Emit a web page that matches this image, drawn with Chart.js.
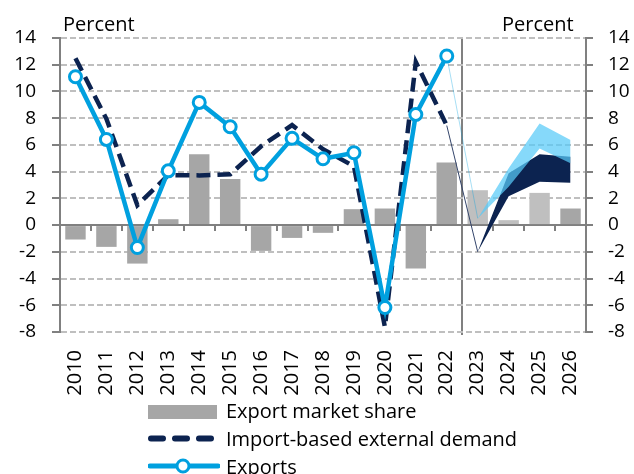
<!DOCTYPE html>
<html>
<head>
<meta charset="utf-8">
<script src="https://cdn.jsdelivr.net/npm/chart.js@4.4.1/dist/chart.umd.min.js"></script>
<style>
  body { margin: 0; background: #fff; }
  #wrap { position: relative; width: 634px; height: 474px; overflow: hidden; font-family: 'Open Sans', sans-serif; }
  #chart { position: absolute; left: 0; top: 0; }
  .unit { position: absolute; font-size: 20px; line-height: 20px; color: #000; white-space: nowrap; }
  .leg { position: absolute; left: 148px; height: 28px; font-size: 20px; line-height: 20px; white-space: nowrap; }
  .leg svg { position: absolute; left: 0; top: 0; }
  .leg span { position: absolute; left: 78px; top: 0; }
</style>
</head>
<body>
<div id="wrap">
  <canvas id="chart" width="634" height="474"></canvas>
  <div class="unit" style="left:63px; top:14px;">Percent</div>
  <div class="unit" style="left:502px; top:14px;">Percent</div>
  <div class="leg" style="top:401px;">
    <svg width="72" height="22"><rect x="0" y="4" width="69" height="14" fill="#A6A6A6"/></svg>
    <span>Export market share</span>
  </div>
  <div class="leg" style="top:429px;">
    <svg width="72" height="22"><line x1="3" y1="9.5" x2="68" y2="9.5" stroke="#0C2350" stroke-width="6" stroke-linecap="round" stroke-dasharray="12 12"/></svg>
    <span>Import-based external demand</span>
  </div>
  <div class="leg" style="top:457px;">
    <svg width="72" height="22"><line x1="2" y1="9" x2="70" y2="9" stroke="#00A0DF" stroke-width="5" stroke-linecap="round"/><circle cx="35" cy="9" r="6" fill="#fff" stroke="#00A0DF" stroke-width="3"/></svg>
    <span>Exports</span>
  </div>
</div>
<script>
// Years on the category axis (2010-2022 history, 2023-2026 projection)
const years = ['2010', '2011', '2012', '2013', '2014', '2015', '2016', '2017', '2018',
    '2019', '2020', '2021', '2022', '2023', '2024', '2025', '2026'];

// Export market share (bars)
const marketShare = [-1.08, -1.63, -2.88, 0.44, 5.31, 3.44, -1.93, -0.96, -0.58,
    1.19, 1.24, -3.25, 4.69, 2.61, 0.37, 2.41, 1.24];

// Import-based external demand (history, dashed)
const importDemand = [12.48, 7.95, 1.49, 3.74, 3.72, 3.8, 5.9, 7.48, 5.68,
    4.4, -7.62, 12.2, 7.45, null, null, null, null];

// Exports (history, line with markers)
const exportsGrowth = [11.1, 6.41, -1.68, 4.06, 9.18, 7.36, 3.81, 6.49, 4.96,
    5.41, -6.17, 8.28, 12.65, null, null, null, null];

// Projection ranges 2023-2026
const demandLow = [null, null, null, null, null, null, null, null, null,
    null, null, null, null, -2.0, 2.15, 3.24, 3.17];
const demandHigh = [null, null, null, null, null, null, null, null, null,
    null, null, null, null, -2.0, 3.87, 5.3, 5.12];
const exportsLow = [null, null, null, null, null, null, null, null, null,
    null, null, null, null, 0.5, 2.87, 5.73, 4.62];
const exportsHigh = [null, null, null, null, null, null, null, null, null,
    null, null, null, null, 0.5, 4.25, 7.6, 6.36];

const yTicksMin = -8;
const yTicksMax = 14;
const yTicksStep = 2;

const lastHist = 12;
const firstProj = 13;

// Thin links from the last observation to the first projection
function linkSeries(hist, proj) {
    return years.map((y, i) => i === lastHist ? hist[lastHist] : (i === firstProj ? proj[firstProj] : null));
}

const NAVY = '#0C2350';
const BLUE = '#00A0DF';
const GRID = '#BFBFBF';
const AXIS = '#808080';

function barColor(i) {
    if (i >= firstProj && i < years.length - 1) return '#BFBFBF';
    return '#A6A6A6';
}

function drawChart() {
    const ctx = document.getElementById('chart').getContext('2d');
    const tickFont = { family: "'Open Sans'", size: 19 };

    new Chart(ctx, {
        type: 'bar',
        data: {
            labels: years,
            datasets: [
                {
                    label: 'Export market share',
                    data: marketShare,
                    backgroundColor: years.map((y, i) => barColor(i)),
                    barPercentage: 0.66,
                    categoryPercentage: 1,
                    order: 10
                },
                {
                    type: 'line',
                    label: 'demand low',
                    data: demandLow,
                    borderWidth: 0,
                    pointRadius: 0,
                    fill: false,
                    order: 8
                },
                {
                    type: 'line',
                    label: 'demand high',
                    data: demandHigh,
                    borderWidth: 0,
                    pointRadius: 0,
                    backgroundColor: NAVY,
                    fill: 1,
                    order: 8
                },
                {
                    type: 'line',
                    label: 'exports low',
                    data: exportsLow,
                    borderWidth: 0,
                    pointRadius: 0,
                    fill: false,
                    order: 6
                },
                {
                    type: 'line',
                    label: 'exports high',
                    data: exportsHigh,
                    borderWidth: 0,
                    pointRadius: 0,
                    backgroundColor: 'rgba(88, 202, 248, 0.72)',
                    fill: 3,
                    order: 6
                },
                {
                    type: 'line',
                    label: 'demand link',
                    data: linkSeries(importDemand, demandLow),
                    borderColor: '#34456B',
                    borderWidth: 1,
                    pointRadius: 0,
                    order: 4
                },
                {
                    type: 'line',
                    label: 'exports link',
                    data: linkSeries(exportsGrowth, exportsLow),
                    borderColor: 'rgba(0, 160, 223, 0.35)',
                    borderWidth: 1,
                    pointRadius: 0,
                    order: 4
                },
                {
                    type: 'line',
                    label: 'Import-based external demand',
                    data: importDemand,
                    borderColor: NAVY,
                    borderWidth: 4.5,
                    borderDash: [14, 7],
                    pointRadius: 0,
                    tension: 0,
                    order: 2
                },
                {
                    type: 'line',
                    label: 'Exports',
                    data: exportsGrowth,
                    borderColor: BLUE,
                    borderWidth: 4.5,
                    pointRadius: 6,
                    pointBorderWidth: 3,
                    pointBorderColor: BLUE,
                    pointBackgroundColor: '#ffffff',
                    tension: 0,
                    order: 1
                }
            ]
        },
        options: {
            responsive: false,
            animation: false,
            layout: { padding: { top: 38, left: 0, right: 0, bottom: 0 } },
            plugins: {
                legend: { display: false },
                tooltip: { enabled: false }
            },
            scales: {
                x: {
                    offset: true,
                    afterFit: function(scale) { scale.height = 142; },
                    border: { display: false },
                    grid: {
                        offset: true,
                        color: function(c) { return c.index === firstProj ? AXIS : 'transparent'; },
                        lineWidth: 2,
                        tickLength: 3
                    },
                    ticks: {
                        autoSkip: false,
                        minRotation: 90,
                        maxRotation: 90,
                        padding: 15,
                        color: '#000',
                        font: { family: "'Open Sans'", size: 20 }
                    }
                },
                x2: {
                    type: 'category',
                    labels: years,
                    position: { y: 0 },
                    offset: true,
                    border: { display: true, color: AXIS, width: 2 },
                    grid: {
                        offset: true,
                        drawOnChartArea: false,
                        color: AXIS,
                        lineWidth: 2,
                        tickLength: 5
                    },
                    ticks: { display: false }
                },
                y: {
                    min: yTicksMin,
                    max: yTicksMax,
                    afterFit: function(scale) { scale.width = 60; },
                    border: { display: true, color: AXIS, width: 2, dash: [6, 3] },
                    grid: {
                        color: function(c) { return c.tick && c.tick.value === 0 ? AXIS : GRID; },
                        lineWidth: 2,
                        tickColor: AXIS,
                        tickLength: 8
                    },
                    ticks: {
                        stepSize: yTicksStep,
                        padding: 16,
                        color: '#000',
                        font: tickFont
                    }
                },
                y2: {
                    position: 'right',
                    min: yTicksMin,
                    max: yTicksMax,
                    afterFit: function(scale) { scale.width = 48; },
                    border: { display: true, color: AXIS, width: 2 },
                    grid: {
                        drawOnChartArea: false,
                        color: AXIS,
                        lineWidth: 2,
                        tickLength: 7
                    },
                    ticks: {
                        stepSize: yTicksStep,
                        padding: 15,
                        color: '#000',
                        font: tickFont
                    }
                }
            }
        }
    });
}

document.fonts.load('19px "Open Sans"').then(drawChart, drawChart);
</script>
</body>
</html>
